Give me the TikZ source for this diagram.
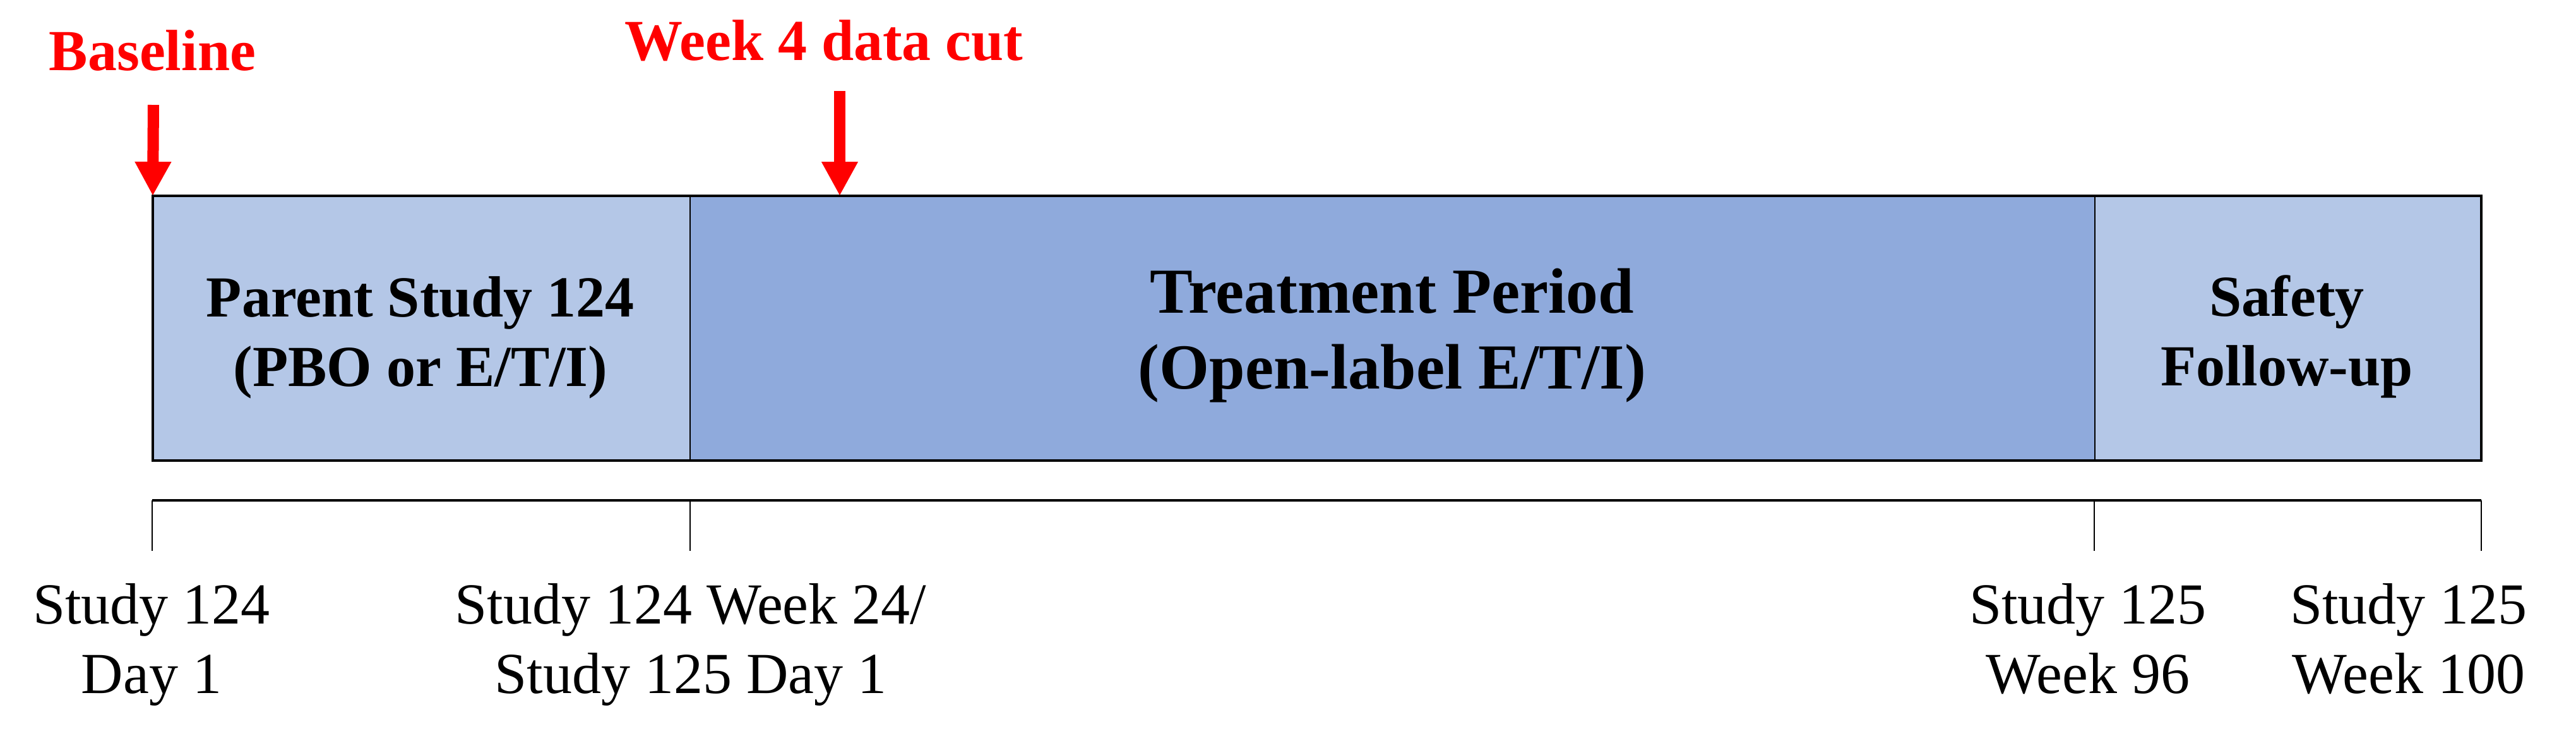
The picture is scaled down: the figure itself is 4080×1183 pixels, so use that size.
\documentclass[tikz,border=0pt]{standalone}
\usepackage{fontspec}
\setmainfont{Liberation Serif}
\usetikzlibrary{arrows.meta}
\definecolor{phaselight}{RGB}{180,199,231}
\definecolor{phasemid}{RGB}{143,170,220}
\tikzset{
  phase/.style={draw=black, line width=0.6pt, inner sep=0pt, outer sep=0pt, minimum height=104.75pt},
  phasetext/.style={anchor=base, align=center, inner sep=0pt, font=\bfseries\fontsize{23}{27.5}\selectfont},
  bigtext/.style={anchor=base, align=center, inner sep=0pt, font=\bfseries\fontsize{25.4}{30}\selectfont},
  marktext/.style={anchor=base, inner sep=0pt, text=red, font=\bfseries\fontsize{23}{27.5}\selectfont},
  marker/.style={draw=red, line width=4.5pt, -{Triangle[width=13.5pt, length=13.5pt]}},
  timeline/.style={draw=black, line width=1pt},
  tick/.style={draw=black, line width=0.6pt},
  ticktext/.style={anchor=base, align=center, inner sep=0pt, font=\fontsize{23}{27.5}\selectfont}
}
\begin{document}
\begin{tikzpicture}[x=0.25pt, y=-0.25pt]
\useasboundingbox (0,0) rectangle (4080,1183);
% phase boxes
\node[phase, fill=phaselight, minimum width=212.75pt] (p1) at (667.5,519.5) {};
\node[phase, fill=phasemid, minimum width=556.25pt] (p2) at (2205.5,519.5) {};
\node[phase, fill=phaselight, minimum width=153pt] (p3) at (3624,519.5) {};
\draw[line width=1pt] (p1.north west) rectangle (p3.south east);
% phase texts (anchored at the baseline of the last line)
\node[phasetext] (t1) at (666,611) {Parent Study 124\\(PBO or E/T/I)};
\node[bigtext] (t2) at (2205,615) {Treatment Period\\(Open-label E/T/I)};
\node[phasetext] (t3) at (3622,610) {Safety\\Follow-up};
% markers
\node[marktext] (mb) at (241.5,111) {Baseline};
\node[marktext] (mw) at (1305,95) {Week 4 data cut};
\coordinate (mbs) at (243,166);
\coordinate (mws) at (1330,144);
\coordinate (mwe) at (1330,310);
\draw[marker] (mbs) -- (p1.north west);
\draw[marker] (mws) -- (mwe);
% timeline
\coordinate (a0) at (241,792);
\coordinate (a1) at (1093,792);
\coordinate (a2) at (3317,792);
\coordinate (a3) at (3930,792);
\coordinate (b0) at (241,872);
\coordinate (b1) at (1093,872);
\coordinate (b2) at (3317,872);
\coordinate (b3) at (3930,872);
\draw[timeline] (a0) -- (a3);
\draw[tick] (a0) -- (b0);
\draw[tick] (a1) -- (b1);
\draw[tick] (a2) -- (b2);
\draw[tick] (a3) -- (b3);
% timeline labels
\node[ticktext] (l0) at (240,1097) {Study 124\\Day 1};
\node[ticktext] (l1) at (1094,1097) {Study 124 Week 24/\\Study 125 Day 1};
\node[ticktext] (l2) at (3307,1097) {Study 125\\Week 96};
\node[ticktext] (l3) at (3815,1097) {Study 125\\Week 100};
\end{tikzpicture}
\end{document}
